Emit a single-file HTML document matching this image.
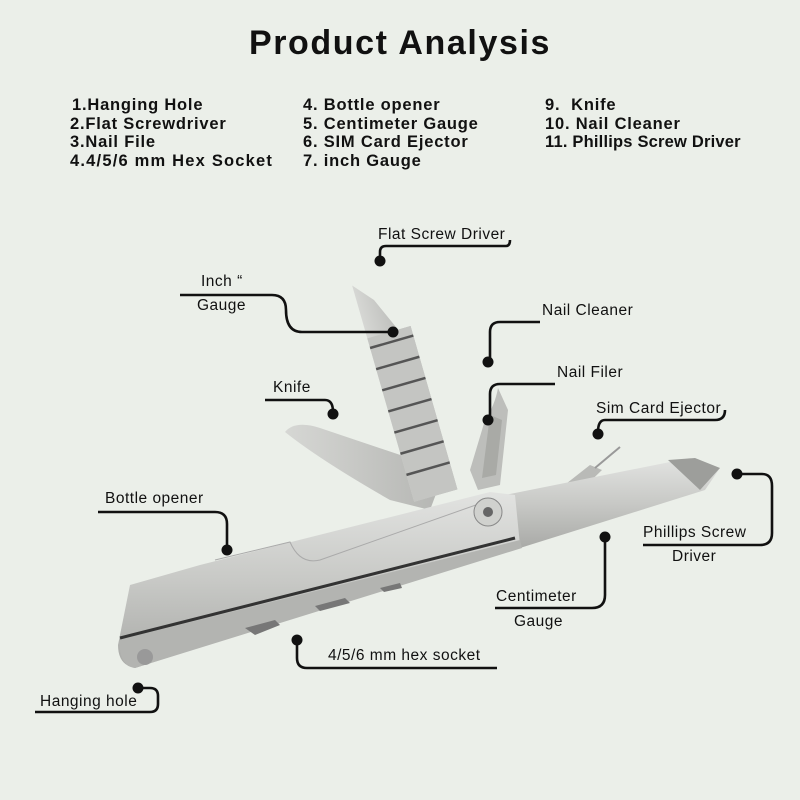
<!DOCTYPE html>
<html><head><meta charset="utf-8"><style>
html,body{margin:0;padding:0;background:#ebefe9;}
body{width:800px;height:800px;position:relative;overflow:hidden;font-family:"Liberation Sans",sans-serif;color:#111;}
.t{position:absolute;white-space:nowrap;}
h1{position:absolute;left:0;width:800px;top:24px;margin:0;text-align:center;font-size:34px;font-weight:bold;letter-spacing:1.6px;}
.l{font-size:16.5px;font-weight:bold;letter-spacing:0.8px;}
.c{font-size:15.5px;letter-spacing:0.5px;}
</style></head><body>
<h1>Product Analysis</h1>
<div class="t l" style="left:72px;top:96px">1.Hanging Hole</div>
<div class="t l" style="left:70px;top:115px">2.Flat Screwdriver</div>
<div class="t l" style="left:70px;top:133px">3.Nail File</div>
<div class="t l" style="left:70px;top:152px;letter-spacing:1.2px">4.4/5/6 mm Hex Socket</div>
<div class="t l" style="left:303px;top:96px">4. Bottle opener</div>
<div class="t l" style="left:303px;top:115px">5. Centimeter Gauge</div>
<div class="t l" style="left:303px;top:133px">6. SIM Card Ejector</div>
<div class="t l" style="left:303px;top:152px">7. inch Gauge</div>
<div class="t l" style="left:545px;top:96px">9.&nbsp; Knife</div>
<div class="t l" style="left:545px;top:115px">10. Nail Cleaner</div>
<div class="t l" style="left:545px;top:133px;letter-spacing:0.2px">11. Phillips Screw Driver</div>

<svg width="800" height="800" style="position:absolute;left:0;top:0">
<defs>
<linearGradient id="m" x1="0" y1="0" x2="0" y2="1"><stop offset="0" stop-color="#e2e3e1"/><stop offset=".5" stop-color="#c8c9c6"/><stop offset="1" stop-color="#a9aaa7"/></linearGradient>
<linearGradient id="m2" x1="0" y1="0" x2="1" y2="0"><stop offset="0" stop-color="#d6d7d4"/><stop offset="1" stop-color="#b4b5b2"/></linearGradient>
</defs>
<path d="M285,432 Q295,420 320,428 L445,470 L430,510 L390,500 Q320,460 285,432Z" fill="url(#m2)"/>
<path d="M498,388 L508,410 L500,485 L478,490 L470,470 L485,420 Q495,405 498,388Z" fill="#bdbebb"/>
<path d="M490,415 L502,420 L496,475 L482,478Z" fill="#a9aaa6"/>
<g transform="rotate(-16 405 390)">
<path d="M383,275 L400,295 L415,330 L428,330 L428,500 L383,500Z" fill="url(#m2)"/>
<path d="M383,330 L428,330 L428,500 L383,500Z" fill="#c4c5c2"/>
<g stroke="#555" stroke-width="2.5">
<line x1="383" y1="340" x2="428" y2="340"/><line x1="383" y1="362" x2="428" y2="362"/><line x1="383" y1="384" x2="428" y2="384"/><line x1="383" y1="406" x2="428" y2="406"/><line x1="383" y1="428" x2="428" y2="428"/><line x1="383" y1="450" x2="428" y2="450"/><line x1="383" y1="472" x2="428" y2="472"/>
</g></g>
<path d="M520,520 L590,465 L602,470 L540,530Z" fill="#b9bab7"/>
<line x1="595" y1="468" x2="620" y2="447" stroke="#999" stroke-width="2"/>
<path d="M505,495 L690,458 L720,468 L705,490 L520,548Z" fill="url(#m)"/>
<path d="M668,460 L695,458 L720,468 L700,490Z" fill="#9d9e9b"/>
<path d="M130,585 L200,565 L490,492 L515,495 L520,545 L135,668 Q118,665 118,645 Z" fill="url(#m)"/>
<path d="M120,640 L520,540 L522,548 L135,668 Q118,665 120,640Z" fill="#b3b4b1"/>
<line x1="120" y1="638" x2="515" y2="538" stroke="#333" stroke-width="3"/>
<path d="M215,560 L290,542 Q300,565 320,560 L490,500" fill="none" stroke="#aaa" stroke-width="1"/>
<circle cx="488" cy="512" r="14" fill="#d0d1ce" stroke="#888"/>
<circle cx="488" cy="512" r="5" fill="#666"/>
<polygon points="245,628 275,620 280,625 255,635" fill="#777"/>
<polygon points="315,606 345,598 350,603 320,611" fill="#777"/>
<polygon points="380,588 400,583 402,588 384,592" fill="#777"/>
<circle cx="145" cy="657" r="8" fill="#999"/>
<g fill="none" stroke="#111" stroke-width="2.6" stroke-linejoin="round">
<path d="M380,262 V252 Q380,246 386,246 H506 Q510,246 510,240"/>
<path d="M180,295 H272 Q286,295 286,310 Q286,332 302,332 H393"/>
<path d="M540,322 H500 Q490,322 490,332 V362"/>
<path d="M555,384 H500 Q490,384 490,394 V420"/>
<path d="M265,400 H325 Q333,400 333,412"/>
<path d="M725,410 Q725,420 715,420 H605 Q598,420 598,432"/>
<path d="M737,474 H762 Q772,474 772,486 V533 Q772,545 760,545 H643"/>
<path d="M605,537 V595 Q605,608 592,608 H495"/>
<path d="M98,512 H215 Q227,512 227,524 V550"/>
<path d="M297,640 V658 Q297,668 307,668 H497"/>
<path d="M138,688 H150 Q158,688 158,696 V704 Q158,712 150,712 H35"/>
</g>
<g fill="#111">
<circle cx="380" cy="261" r="5.5"/><circle cx="393" cy="332" r="5.5"/><circle cx="488" cy="362" r="5.5"/><circle cx="488" cy="420" r="5.5"/><circle cx="333" cy="414" r="5.5"/><circle cx="598" cy="434" r="5.5"/><circle cx="737" cy="474" r="5.5"/><circle cx="605" cy="537" r="5.5"/><circle cx="227" cy="550" r="5.5"/><circle cx="297" cy="640" r="5.5"/><circle cx="138" cy="688" r="5.5"/>
</g>
</svg>
<div class="t c" style="left:378px;top:226px">Flat Screw Driver</div>
<div class="t c" style="left:201px;top:273px">Inch “</div>
<div class="t c" style="left:197px;top:297px">Gauge</div>
<div class="t c" style="left:542px;top:302px">Nail Cleaner</div>
<div class="t c" style="left:557px;top:364px">Nail Filer</div>
<div class="t c" style="left:273px;top:379px">Knife</div>
<div class="t c" style="left:596px;top:400px">Sim Card Ejector</div>
<div class="t c" style="left:643px;top:524px">Phillips Screw</div>
<div class="t c" style="left:672px;top:548px">Driver</div>
<div class="t c" style="left:496px;top:588px">Centimeter</div>
<div class="t c" style="left:514px;top:613px">Gauge</div>
<div class="t c" style="left:105px;top:490px">Bottle opener</div>
<div class="t c" style="left:328px;top:647px">4/5/6 mm hex socket</div>
<div class="t c" style="left:40px;top:693px">Hanging hole</div>
</body></html>
